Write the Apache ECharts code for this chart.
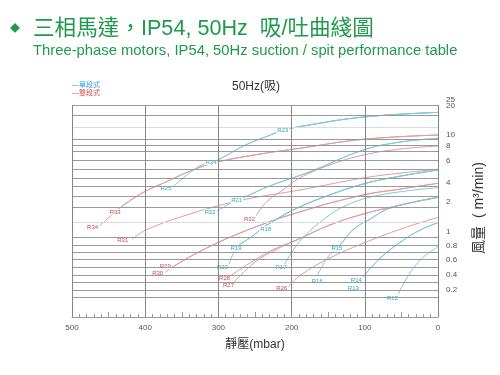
<!DOCTYPE html>
<html>
<head>
<meta charset="utf-8">
<script src="https://cdn.jsdelivr.net/npm/echarts@6/dist/echarts.min.js"></script>
<style>
html, body { margin: 0; padding: 0; background: #fff; }
#chart { width: 500px; height: 375px; }
</style>
</head>
<body>
<div id="chart"></div>
<script>
// 風量軸：原圖刻度不均勻，按刻度位置分段線性換算
const flowTicks = [0, 0.2, 0.4, 0.6, 0.8, 1, 2, 4, 6, 8, 10, 20, 25];
const flowLevels = [12, 27, 42, 57.5, 71.7, 85, 115, 134.5, 156, 171, 182, 211, 217];
const yTickLabels = ['0.2', '0.4', '0.6', '0.8', '1', '2', '4', '6', '8', '10', '20', '25'];
const xTickLabels = [0, 100, 200, 300, 400, 500];
// 橫向格線 (軸單位)
const hGridLevels = [212, 201.3, 177.5, 171.7, 165.7, 156.5, 147.7, 138.7, 131, 120.5, 109.7,
  79.5, 71.7, 64.5, 57.5, 49.7, 42, 34.5, 27, 19.5];
const hGridLight = [189.7, 94.5];
const vGrid = [0, 100, 200, 300, 400, 500];

// 曲線 [靜壓 mbar, 風量 m3/min]
// 單段式
const R12 = [[54, 0.15], [45, 0.32], [31, 0.52], [17, 0.66], [0, 0.78]];
const R13 = [[102, 0.38], [79, 0.62], [51, 0.85], [24, 1.07], [0, 1.31]];
const R14 = [[102, 0.38], [79, 0.62], [51, 0.85], [24, 1.07], [0, 1.31]];
const R15 = [[134, 0.8], [115, 1.1], [95, 1.4], [65, 1.8], [0, 2.48]];
const R16 = [[165, 0.39], [150, 0.64], [134, 0.8], [115, 1.1], [95, 1.4], [65, 1.8], [0, 2.48]];
const R17 = [[209, 0.55], [196, 0.76], [182, 0.94], [161, 1.33], [127, 1.87], [79, 2.72], [0, 3.47]];
const R18 = [[234, 1.23], [193, 1.79], [148, 2.72], [102, 3.85], [51, 4.6], [0, 5.16]];
const R19 = [[276, 0.76], [268, 0.83], [252, 0.95], [234, 1.23], [193, 1.79], [148, 2.72], [102, 3.85], [51, 4.6], [0, 5.16]];
const R20 = [[285, 0.55], [276, 0.76], [268, 0.83], [252, 0.95], [234, 1.23], [193, 1.79], [148, 2.72], [102, 3.85], [51, 4.6], [0, 5.16]];
const R21 = [[275, 2.21], [267, 2.41], [230, 3.64], [175, 5.0], [102, 7.47], [51, 8.73], [0, 9.4]];
const R22 = [[303, 1.68], [275, 2.21], [267, 2.41], [230, 3.64], [175, 5.0], [102, 7.47], [51, 8.73], [0, 9.4]];
const R23 = [[212, 11.7], [189, 12.9], [102, 16.2], [0, 17.8]];
const R24 = [[310, 5.91], [298, 6.27], [263, 8.18], [226, 10.3], [212, 11.7], [189, 12.9], [102, 16.2], [0, 17.8]];
const R25 = [[362, 3.57], [326, 5.53], [310, 5.91], [298, 6.27], [263, 8.18], [226, 10.3], [212, 11.7], [189, 12.9], [102, 16.2], [0, 17.8]];
// 雙段式
const R26 = [[204, 0.25], [189, 0.39], [148, 0.62], [102, 0.83], [51, 1.1], [0, 1.49]];
const R27 = [[278, 0.31], [251, 0.56], [223, 0.73], [193, 0.88], [148, 1.23], [102, 1.6], [51, 1.9], [0, 2.48]];
const R28 = [[282, 0.4], [251, 0.59], [223, 0.75], [193, 0.88], [148, 1.23], [102, 1.6], [51, 1.9], [0, 2.48]];
const R29 = [[363, 0.5], [326, 0.71], [267, 1.0], [189, 1.67], [102, 2.72], [51, 3.33], [0, 3.92]];
const R30 = [[372, 0.44], [363, 0.5], [326, 0.71], [267, 1.0], [189, 1.67], [102, 2.72], [51, 3.33], [0, 3.92]];
const R31 = [[417, 0.9], [399, 1.07], [335, 1.63], [267, 2.21], [189, 3.23], [102, 4.42], [51, 4.88], [0, 5.23]];
const R32 = [[248, 1.57], [233, 2.1], [212, 3.23], [189, 4.42], [148, 5.63], [102, 6.8], [51, 7.6], [0, 8.0]];
const R33 = [[441, 1.67], [426, 1.96], [401, 3.06], [381, 3.74], [335, 5.16], [303, 5.88], [243, 6.93], [189, 7.69], [102, 9.22], [0, 10]];
const R34 = [[461, 1.23], [441, 1.67], [426, 1.96], [401, 3.06], [381, 3.74], [335, 5.16], [303, 5.88], [243, 6.93], [189, 7.69], [102, 9.22], [0, 10]];

const singleCurves = { R12, R13, R14, R15, R16, R17, R18, R19, R20, R21, R22, R23, R24, R25 };
const doubleCurves = { R26, R27, R28, R29, R30, R31, R32, R33, R34 };

// 標籤相對曲線起點的偏移
const labelOffset = {
  R12: [-6, 5], R13: [-10, 12], R14: [-7, 4], R15: [-3, 3], R16: [0, 6], R17: [-4, 4],
  R18: [-1, 4], R19: [0, 0], R20: [-7, 4], R21: [0, 0], R22: [-6, 1], R23: [0, 0],
  R24: [0, 0], R25: [-7, 2], R26: [-7, 2], R27: [-6, 4], R28: [-7, 3], R29: [-7, -1],
  R30: [-8, 1], R31: [-10, 2], R32: [-7, 4], R33: [0, 0], R34: [-8, 2]
};

const FONT = 'Liberation Sans, "Noto Sans CJK TC", sans-serif';
const GREEN = '#1e9a4c';
const CYAN = '#7fcbdc', CYAN_TXT = '#2fa7d0';
const RED = '#e39c9c', RED_TXT = '#d6474a';

function toLevel(f) {
  for (let i = 1; i < flowTicks.length; i++) {
    if (f <= flowTicks[i]) {
      const t = (f - flowTicks[i - 1]) / (flowTicks[i] - flowTicks[i - 1]);
      return flowLevels[i - 1] + t * (flowLevels[i] - flowLevels[i - 1]);
    }
  }
  return flowLevels[flowLevels.length - 1];
}

// 刻度標籤：太近的 (20 / 25) 合成一個兩行標籤
const labelByLevel = {};
const yLabelLevels = [];
for (let i = 0; i < yTickLabels.length; i++) {
  const lv = toLevel(parseFloat(yTickLabels[i]));
  const next = yTickLabels[i + 1];
  if (next && toLevel(parseFloat(next)) - lv < 8) {
    const mid = (lv + toLevel(parseFloat(next))) / 2;
    labelByLevel[mid.toFixed(2)] = '{s|' + next + '}\n{s|' + yTickLabels[i] + '}';
    yLabelLevels.push(mid);
    i++;
  } else {
    labelByLevel[lv.toFixed(2)] = yTickLabels[i];
    yLabelLevels.push(lv);
  }
}

function makeSeries(name, pts, lineColor, txtColor) {
  const data = pts.map(([p, f]) => [p, toLevel(f)]);
  data[0] = {
    value: data[0],
    label: {
      show: true,
      formatter: name,
      position: 'inside',
      offset: labelOffset[name],
      color: txtColor,
      fontSize: 6,
      fontFamily: FONT,
      backgroundColor: '#fff',
      padding: [0, 1]
    }
  };
  return {
    name,
    type: 'line',
    data,
    smooth: 0.4,
    symbol: 'circle',
    symbolSize: 1,
    itemStyle: { color: lineColor },
    lineStyle: { color: lineColor, width: 1 },
    label: { show: false },
    silent: true
  };
}

const series = [];
// 格線
const markData = [];
hGridLevels.forEach(v => markData.push({ yAxis: v, lineStyle: { color: '#9a9a9a' } }));
hGridLight.forEach(v => markData.push({ yAxis: v, lineStyle: { color: '#dcdcdc' } }));
vGrid.forEach(v => markData.push([{ coord: [v, 0], lineStyle: { color: '#858585' } }, { coord: [v, 212] }]));
series.push({
  type: 'line',
  data: [],
  silent: true,
  markLine: {
    silent: true,
    symbol: ['none', 'none'],
    label: { show: false },
    lineStyle: { type: 'solid', width: 1 },
    data: markData
  }
});
Object.keys(doubleCurves).forEach(k => series.push(makeSeries(k, doubleCurves[k], RED, RED_TXT)));
Object.keys(singleCurves).forEach(k => series.push(makeSeries(k, singleCurves[k], CYAN, CYAN_TXT)));

const chart = echarts.init(document.getElementById('chart'));
chart.setOption({
  animation: false,
  backgroundColor: '#fff',
  grid: { left: 72, right: 62, top: 99, bottom: 58 },
  graphic: [
    { type: 'text', x: 10, y: 24, style: { text: '◆', fill: GREEN, font: '10px ' + FONT } },
    { type: 'text', x: 33, y: 18, style: { text: '三相馬達，IP54, 50Hz  吸/吐曲綫圖', fill: GREEN, font: '21.6px ' + FONT } },
    { type: 'text', x: 33, y: 44, style: { text: 'Three-phase motors, IP54, 50Hz suction / spit performance table', fill: GREEN, font: '14.8px ' + FONT } },
    { type: 'text', x: 256, y: 87, style: { text: '50Hz(吸)', fill: '#333', font: '12px ' + FONT, align: 'center', verticalAlign: 'middle' } },
    { type: 'text', x: 72, y: 85.5, style: { text: '—單段式', fill: CYAN_TXT, font: '7px ' + FONT, verticalAlign: 'middle' } },
    { type: 'text', x: 72, y: 93.5, style: { text: '—雙段式', fill: RED_TXT, font: '7px ' + FONT, verticalAlign: 'middle' } }
  ],
  xAxis: {
    type: 'value',
    inverse: true,
    min: 0,
    max: 500,
    interval: 50,
    name: '靜壓(mbar)',
    nameLocation: 'middle',
    nameGap: 22,
    nameTextStyle: { fontSize: 12, color: '#333', fontFamily: FONT },
    axisLine: { lineStyle: { color: '#999' } },
    axisTick: { inside: true, length: 5, lineStyle: { color: '#999' } },
    minorTick: { show: true, splitNumber: 5, length: 3, lineStyle: { color: '#999' } },
    splitLine: { show: false },
    axisLabel: { customValues: xTickLabels, fontSize: 8, color: '#555', margin: 7, fontFamily: FONT }
  },
  yAxis: {
    type: 'value',
    position: 'right',
    min: 0,
    max: 218,
    name: '風量  ( m³/min)',
    nameLocation: 'middle',
    nameRotate: 90,
    nameGap: 34,
    nameTextStyle: { fontSize: 14, color: '#333', fontFamily: FONT },
    axisLine: { show: false },
    axisTick: { show: false },
    splitLine: { show: false },
    axisLabel: {
      customValues: yLabelLevels,
      formatter: v => labelByLevel[v.toFixed(2)] || '',
      fontSize: 8,
      color: '#555',
      margin: 8,
      fontFamily: FONT,
      rich: { s: { fontSize: 8, lineHeight: 6, color: '#555', fontFamily: FONT } }
    }
  },
  series
});
</script>
</body>
</html>
